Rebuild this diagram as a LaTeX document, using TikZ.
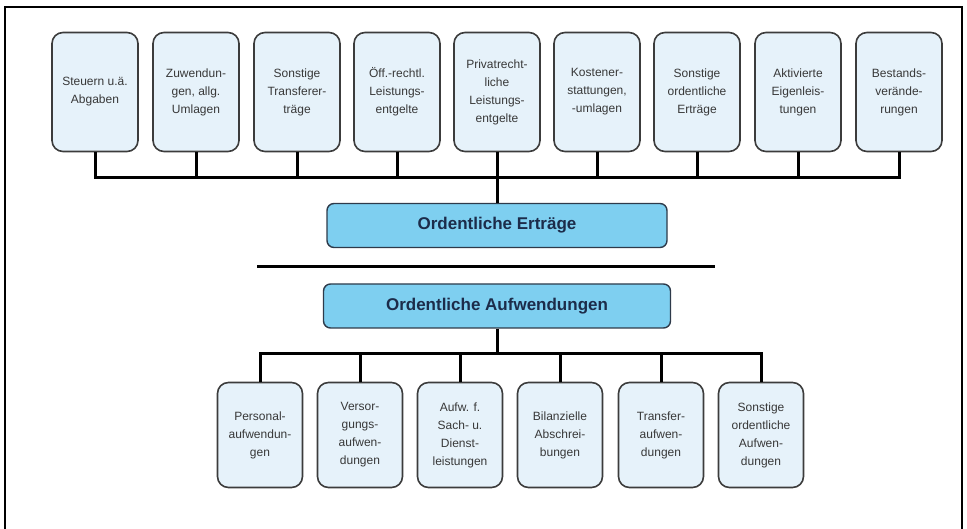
\documentclass[tikz,border=0pt]{standalone}
\usepackage{fontspec}
\setmainfont{Liberation Sans}
\usetikzlibrary{positioning}

\definecolor{boxfill}{HTML}{E6F2FA}
\definecolor{boxline}{HTML}{3C3C3C}
\definecolor{txtgray}{HTML}{383838}
\definecolor{sumfill}{HTML}{7ECFF0}
\definecolor{sumline}{HTML}{2E3A4A}
\definecolor{sumtext}{HTML}{1C2C4A}

\tikzset{
  posten/.style={draw=boxline, line width=1.6pt, rounded corners=11pt, fill=boxfill,
    minimum width=86pt, minimum height=119pt, align=center, inner sep=1pt,
    text=txtgray, font=\fontsize{12}{18}\selectfont},
  aufposten/.style={posten, minimum width=85pt, minimum height=105pt},
  summe/.style={draw=sumline, line width=1.4pt, rounded corners=7pt, fill=sumfill,
    minimum height=44pt, text=sumtext, font=\fontsize{17}{20}\selectfont\bfseries},
  leitung/.style={line width=3pt},
}

\begin{document}
\begin{tikzpicture}[x=1pt, y=-1pt]
\useasboundingbox (0,0) rectangle (967,529);
% rahmen
\draw[line width=2pt] (5,529) -- (5,7) -- (962,7) -- (962,529);

% ertraege
\node[posten] (e1) at (95,92) {Steuern u.ä.\\Abgaben};
\node[posten] (e2) at (196,92) {Zuwendun-\\gen, allg.\\Umlagen};
\node[posten] (e3) at (297,92) {Sonstige\\Transferer-\\träge};
\node[posten] (e4) at (397,92) {Öff.-rechtl.\\Leistungs-\\entgelte};
\node[posten] (e5) at (497,92) {Privatrecht-\\liche\\Leistungs-\\entgelte};
\node[posten] (e6) at (597,92) {Kostener-\\stattungen,\\-umlagen};
\node[posten] (e7) at (697,92) {Sonstige\\ordentliche\\Erträge};
\node[posten] (e8) at (798,92) {Aktivierte\\Eigenleis-\\tungen};
\node[posten] (e9) at (899,92) {Bestands-\\verände-\\rungen};
\coordinate (ebus) at (497,178);

\node[summe, minimum width=340pt] (ertr) at (497,225.5) {Ordentliche Erträge};
\draw[leitung] (257,267) -- (715,267);
\node[summe, minimum width=347pt] (aufw) at (497,306) {Ordentliche Aufwendungen};

% aufwendungen
\coordinate (abus) at (497,354);
\node[aufposten] (a1) at (260,435) {Personal-\\aufwendun-\\gen};
\node[aufposten] (a2) at (360,435) {Versor-\\gungs-\\aufwen-\\dungen};
\node[aufposten] (a3) at (460,435) {Aufw. f.\\Sach- u.\\Dienst-\\leistungen};
\node[aufposten] (a4) at (560,435) {Bilanzielle\\Abschrei-\\bungen};
\node[aufposten] (a5) at (661,435) {Transfer-\\aufwen-\\dungen};
\node[aufposten] (a6) at (761,435) {Sonstige\\ordentliche\\Aufwen-\\dungen};

\draw[leitung] (e1) |- (ebus) -| (e9);
\draw[leitung] (e2) -- (e2 |- ebus);
\draw[leitung] (e3) -- (e3 |- ebus);
\draw[leitung] (e4) -- (e4 |- ebus);
\draw[leitung] (e5) -- (e5 |- ebus);
\draw[leitung] (e6) -- (e6 |- ebus);
\draw[leitung] (e7) -- (e7 |- ebus);
\draw[leitung] (e8) -- (e8 |- ebus);
\draw[leitung] (ebus) -- (ertr);

\draw[leitung] (aufw) -- (abus);
\draw[leitung] (a1) |- (abus) -| (a6);
\draw[leitung] (a2) -- (a2 |- abus);
\draw[leitung] (a3) -- (a3 |- abus);
\draw[leitung] (a4) -- (a4 |- abus);
\draw[leitung] (a5) -- (a5 |- abus);
\end{tikzpicture}
\end{document}
